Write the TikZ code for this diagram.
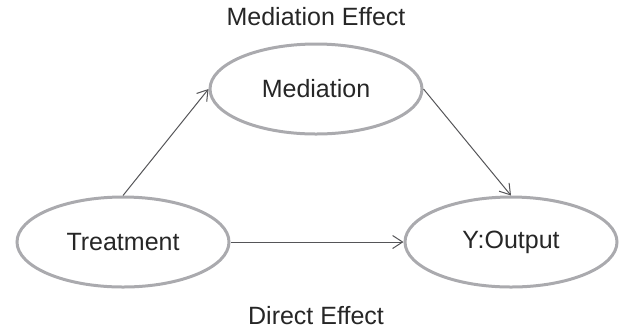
\documentclass[tikz,border=0pt]{standalone}
\usepackage{fontspec}
\setmainfont{Liberation Sans}
\usetikzlibrary{arrows.meta,shapes.geometric}
\definecolor{rimgray}{RGB}{170,170,174}
\definecolor{linegray}{RGB}{85,85,88}
\begin{document}
\begin{tikzpicture}[x=0.5pt,y=-0.5pt]
    \tikzset{var/.style={ellipse,draw=rimgray,line width=1.5pt,minimum
        width=106pt,minimum height=45pt,inner sep=0pt,text=black!85,
        font=\fontsize{12.5}{15}\selectfont},
      lbl/.style={text=black!85,font=\fontsize{12.5}{15}\selectfont},
      eff/.style={->,>={Straight Barb[length=5pt,width=6.5pt]},draw=linegray,line
        width=0.5pt}}
    \useasboundingbox (0,0) rectangle (624,334);
    \node[var] (treat) at (123,242) {Treatment};
    \node[var] (med) at (316,89) {Mediation};
    \node[var] (out) at (511,242) {Y:Output};
    \node[lbl] (medfx) at (316,17) {Mediation Effect};
    \node[lbl] (dirfx) at (316,316) {Direct Effect};

    \draw[eff] (treat.north) -- (med.west) ;
    \draw[eff] (med.east) -- (out.north) ;
    \draw[eff] (treat.east) -- (out.west) ;

  \end{tikzpicture}
\end{document}
